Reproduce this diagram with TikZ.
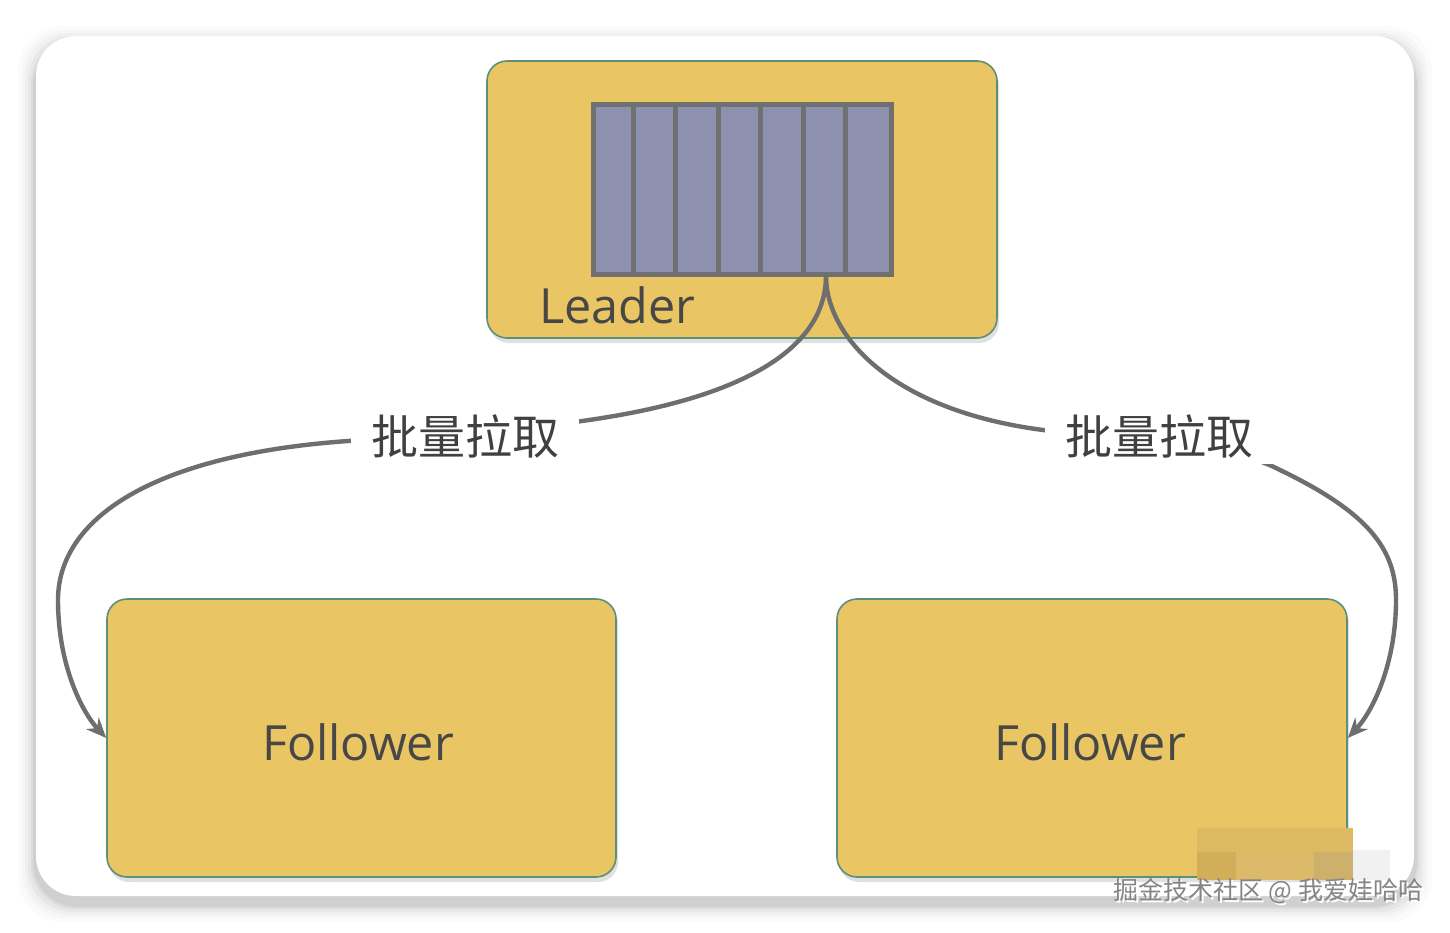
\documentclass[tikz,border=0pt]{standalone}
\usepackage{fontspec}
\setmainfont{Open Sans}
\newfontfamily\cjk{Noto Sans CJK SC}
\usetikzlibrary{arrows.meta,calc}
\definecolor{boxfill}{HTML}{E9C563}
\definecolor{boxline}{HTML}{5D8F7B}
\definecolor{qfill}{HTML}{8D91AF}
\definecolor{qline}{HTML}{707070}
\definecolor{conncol}{HTML}{6E6E6E}
\definecolor{txtcol}{HTML}{474747}
\definecolor{mosA}{HTML}{DDB962}
\definecolor{mosB}{HTML}{D2AE58}
\definecolor{mosC}{HTML}{DCBA6A}
\definecolor{mosD}{HTML}{CDB06C}
\definecolor{mosE}{HTML}{F1F1F1}
\tikzset{
  nodebox/.style={draw=boxline, line width=1.6pt, fill=boxfill, rounded corners=20pt, inner sep=0pt},
  boxshadow/.style={fill=black, opacity=0.12, rounded corners=20pt, draw=none},
  boxtext/.style={text=txtcol, font=\fontsize{48.5}{52}\selectfont, inner sep=0pt, anchor=base},
  pulllabel/.style={text=txtcol!90!black, font=\cjk\fontsize{47}{50}\selectfont, fill=white, inner xsep=20pt, inner ysep=6pt},
  conn/.style={draw=conncol, line width=4.4pt, -{Stealth[length=20pt,width=17pt]}},
  wmark/.style={text=black!48, font=\cjk\fontsize{25}{28}\selectfont, inner sep=0pt, anchor=west},
}
\begin{document}
\begin{tikzpicture}[x=1pt,y=-1pt]
\useasboundingbox (0,0) rectangle (1450,932);
\fill[white] (0,0) rectangle (1450,932);
% card shadow
\foreach \d/\o in {18/0.015,14/0.02,11/0.025,8/0.035,5/0.045,3/0.055}{
  \fill[black,opacity=\o,rounded corners=44pt] (36-\d,36-\d+8) rectangle (1414+\d,896+\d+8);
}
\fill[white,rounded corners=40pt] (36,36) rectangle (1414,896);

% box shadows
\fill[boxshadow] (489,65) rectangle (999,343);
\fill[boxshadow] (109,603) rectangle (618,882);
\fill[boxshadow] (839,603) rectangle (1349,882);

% leader
\node[nodebox, minimum width=510pt, minimum height=277pt] (leader) at (742,199.5) {};
\node[draw=qline, line width=5pt, fill=qfill, minimum width=298pt, minimum height=170pt, inner sep=0pt] (queue) at (742,189) {};
\foreach \k in {1,...,6}{
  \draw[qline, line width=5pt] ($(queue.north west)+(\k*298/7,0)$) -- ($(queue.south west)+(\k*298/7,0)$);
}
\node[boxtext, anchor=base west] (leadertxt) at (539,323) {Leader};

% followers
\node[nodebox, minimum width=509pt, minimum height=278pt] (f1) at (361.5,738) {};
\node[nodebox, minimum width=510pt, minimum height=278pt] (f2) at (1092,738) {};
\node[boxtext] (f1t) at (358,760) {Follower};
\node[boxtext] (f2t) at (1090,760) {Follower};

\coordinate (src) at (826,276);

% connectors
\draw[conn] (src) .. controls (826,335) and (770,395) .. (582,421)
  .. controls (500,432) and (420,436) .. (348,441)
  .. controls (150,455) and (58,520) .. (58,600)
  .. controls (58,665) and (82,712) .. (f1.west);
\draw[conn] (src) .. controls (826,335) and (890,410) .. (1043,430)
  .. controls (1130,441) and (1220,440) .. (1278,469)
  .. controls (1370,513) and (1396,550) .. (1396,600)
  .. controls (1396,665) and (1372,712) .. (f2.east);

\node[pulllabel] (lab1) at (465,436) {批量拉取};
\node[pulllabel] (lab2) at (1159,436) {批量拉取};

% mosaic patch
\fill[mosE] (1353,850) rectangle (1390,880);
\fill[mosA] (1197,828) rectangle (1353,852);
\fill[mosB] (1197,852) rectangle (1236,880);
\fill[mosC] (1236,852) rectangle (1314,880);
\fill[mosD] (1314,852) rectangle (1353,880);

% watermark
\node[wmark, text=white] at (1115,893) {掘金技术社区 @ 我爱娃哈哈};
\node[wmark] (wm) at (1113,891) {掘金技术社区 @ 我爱娃哈哈};
\end{tikzpicture}
\end{document}
